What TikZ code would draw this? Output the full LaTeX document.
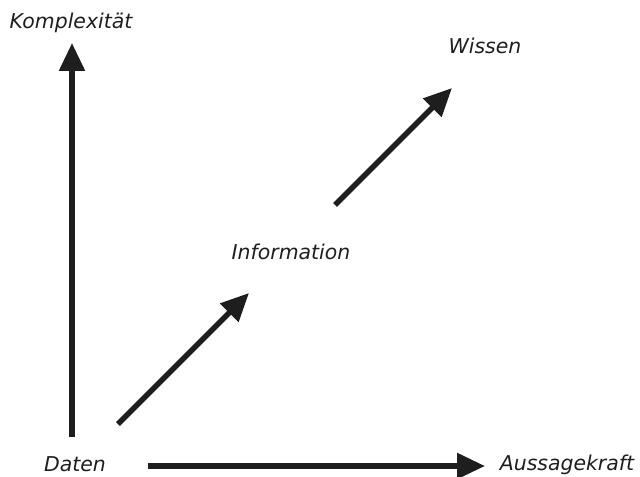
\documentclass[tikz,border=0pt]{standalone}
\usepackage{fontspec}
\setmainfont{DejaVu Sans}
\usetikzlibrary{arrows.meta}
\definecolor{ink}{HTML}{1E1E1E}
\begin{document}
\begin{tikzpicture}[x=1bp,y=-1bp,
  lbl/.style={font=\fontsize{20.5}{22}\selectfont\itshape, text=ink, inner sep=0pt},
  arr/.style={draw=ink, line width=5.5bp, -{Triangle[length=28bp,width=25bp]}}]
\useasboundingbox (0,0) rectangle (640,477);
\node[lbl] (komp) at (71,23) {Komplexität};
\node[lbl] (wis) at (485,46) {Wissen};
\node[lbl] (inf) at (291,252) {Information};
\node[lbl] (dat) at (75,464) {Daten};
\node[lbl] (aus) at (567,465) {Aussagekraft};
\coordinate (v0) at (72,437);
\coordinate (v1) at (72,43);
\coordinate (h0) at (148,466);
\coordinate (h1) at (485,466);
\coordinate (d0) at (118,424);
\coordinate (d1) at (249,293);
\coordinate (e0) at (335,205);
\coordinate (e1) at (452,88);
\draw[arr] (v0) -- (v1);
\draw[arr] (h0) -- (h1);
\draw[arr] (d0) -- (d1);
\draw[arr] (e0) -- (e1);
\end{tikzpicture}
\end{document}
